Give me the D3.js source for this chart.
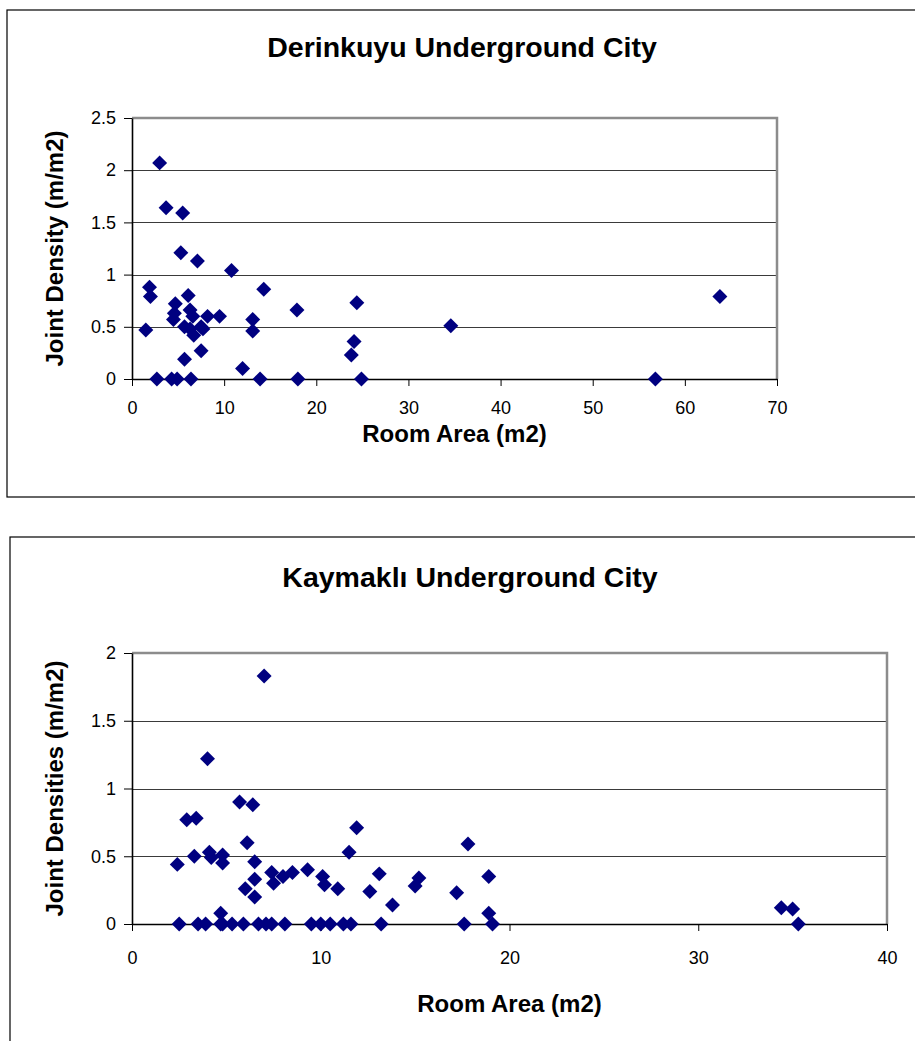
<!DOCTYPE html>
<html>
<head>
<meta charset="utf-8">
<script src="https://cdn.jsdelivr.net/npm/d3@7"></script>
<style>
  html, body { margin: 0; padding: 0; background: #fff; }
  svg { display: block; font-family: "Liberation Sans", Arial, sans-serif; }
</style>
</head>
<body>
<svg id="chart" width="915" height="1041"></svg>
<script>
// Derinkuyu: room area (m2) and joint density (m/m2)
const derinkuyuArea = [
  3.0, 3.7, 5.5, 5.3, 7.1, 10.8, 1.9, 2.0, 14.3, 6.1, 24.4, 63.8,
  4.7, 4.6, 4.5, 6.3, 6.6, 8.2, 9.5, 13.1, 17.9, 1.5, 5.7, 6.3,
  6.7, 7.5, 7.7, 13.1, 24.1, 23.8, 34.6, 7.5, 5.7, 12.0,
  2.7, 4.3, 4.9, 6.4, 13.9, 18.0, 24.9, 56.8
];
const derinkuyuDensity = [
  2.07, 1.64, 1.59, 1.21, 1.13, 1.04, 0.88, 0.79, 0.86, 0.80, 0.73, 0.79,
  0.72, 0.63, 0.57, 0.66, 0.60, 0.60, 0.60, 0.57, 0.66, 0.47, 0.50, 0.48,
  0.42, 0.50, 0.48, 0.46, 0.36, 0.23, 0.51, 0.27, 0.19, 0.10,
  0, 0, 0, 0, 0, 0, 0, 0
];

// Kaymakli: room area (m2) and joint densities (m/m2)
const kaymakliArea = [
  7.0, 4.0, 5.7, 6.4, 2.9, 3.4, 6.1, 11.9, 17.8, 2.4, 3.3, 4.1,
  4.2, 4.8, 4.8, 6.5, 7.4, 7.5, 6.5, 6.0, 6.5, 4.7, 8.0, 8.5,
  9.3, 10.1, 10.2, 11.5, 10.9, 13.1, 12.6, 13.8, 15.2, 15.0, 17.2, 18.9,
  18.9, 34.4, 35.0, 35.3,
  2.5, 3.5, 3.9, 4.7, 4.8, 5.3, 5.9, 6.7, 7.1, 7.4, 8.1, 9.5,
  10.0, 10.5, 11.2, 11.6, 13.2, 17.6, 19.1
];
const kaymakliDensity = [
  1.83, 1.22, 0.90, 0.88, 0.77, 0.78, 0.60, 0.71, 0.59, 0.44, 0.50, 0.53,
  0.49, 0.51, 0.45, 0.46, 0.38, 0.30, 0.33, 0.26, 0.20, 0.08, 0.35, 0.38,
  0.40, 0.35, 0.29, 0.53, 0.26, 0.37, 0.24, 0.14, 0.34, 0.28, 0.23, 0.35,
  0.08, 0.12, 0.11, 0,
  0, 0, 0, 0, 0, 0, 0, 0, 0, 0, 0, 0,
  0, 0, 0, 0, 0, 0, 0
];

// Axis tick values and labels
const derinkuyuXTicks = [0, 10, 20, 30, 40, 50, 60, 70];
const derinkuyuYTicks = [0, 0.5, 1, 1.5, 2, 2.5];
const kaymakliXTicks = [0, 10, 20, 30, 40];
const kaymakliYTicks = [0, 0.5, 1, 1.5, 2];

const svg = d3.select("#chart");

function drawPanel(cfg) {
  const g = svg.append("g");

  // outer chart frame
  g.append("rect")
    .attr("x", cfg.frame[0]).attr("y", cfg.frame[1])
    .attr("width", cfg.frame[2]).attr("height", cfg.frame[3])
    .attr("fill", "#fff").attr("stroke", "#000").attr("stroke-width", 1.2);

  const x = d3.scaleLinear().domain(cfg.xDomain).range([cfg.left, cfg.right]);
  const y = d3.scaleLinear().domain(cfg.yDomain).range([cfg.bottom, cfg.top]);

  // horizontal gridlines
  g.append("g").selectAll("line")
    .data(cfg.yTicks.filter(d => d > cfg.yDomain[0] && d < cfg.yDomain[1]))
    .join("line")
    .attr("x1", cfg.left).attr("x2", cfg.right)
    .attr("y1", d => Math.round(y(d)) + 0.5).attr("y2", d => Math.round(y(d)) + 0.5)
    .attr("stroke", "#3a3a3a").attr("stroke-width", 1);

  // plot area border (top and right in grey)
  g.append("path")
    .attr("d", `M${cfg.left},${cfg.top}H${cfg.right}V${cfg.bottom}`)
    .attr("fill", "none").attr("stroke", "#8c8c8c").attr("stroke-width", 2.5);

  // axes
  const xAxis = d3.axisBottom(x).tickValues(cfg.xTicks).tickFormat(d3.format("d"))
    .tickSizeInner(7).tickSizeOuter(0).tickPadding(cfg.xPad);
  const yAxis = d3.axisLeft(y).tickValues(cfg.yTicks).tickFormat(d => String(d))
    .tickSizeInner(8).tickSizeOuter(0).tickPadding(8);

  const gx = g.append("g").attr("transform", `translate(0,${cfg.bottom})`).call(xAxis);
  const gy = g.append("g").attr("transform", `translate(${cfg.left},0)`).call(yAxis);
  [gx, gy].forEach(a => {
    a.select(".domain").attr("stroke", "#000").attr("stroke-width", 1.6);
    a.selectAll(".tick line").attr("stroke", "#000").attr("stroke-width", 1);
    a.selectAll(".tick text")
      .attr("font-family", "Liberation Sans, Arial, sans-serif")
      .attr("font-size", 18).attr("fill", "#000");
  });

  // markers
  const diamond = d3.symbol().type(d3.symbolSquare).size(112);
  g.append("g").selectAll("path")
    .data(cfg.xs.map((v, i) => [v, cfg.ys[i]]))
    .join("path")
    .attr("d", diamond)
    .attr("transform", d => `translate(${x(d[0])},${y(d[1])}) rotate(45)`)
    .attr("fill", "#000080");

  // titles
  g.append("text")
    .attr("x", cfg.titleX).attr("y", cfg.titleY)
    .attr("text-anchor", "middle").attr("font-weight", "bold").attr("font-size", 28.5)
    .text(cfg.title);

  g.append("text")
    .attr("x", (cfg.left + cfg.right) / 2).attr("y", cfg.xLabelY)
    .attr("text-anchor", "middle").attr("font-weight", "bold").attr("font-size", 24)
    .text(cfg.xLabel);

  g.append("text")
    .attr("transform", `translate(${cfg.yLabelX},${(cfg.top + cfg.bottom) / 2}) rotate(-90)`)
    .attr("text-anchor", "middle").attr("font-weight", "bold").attr("font-size", 24)
    .text(cfg.yLabel);
}

drawPanel({
  frame: [7, 10, 920, 487],
  left: 132, right: 777, top: 118, bottom: 379,
  xDomain: [0, 70], yDomain: [0, 2.5],
  xTicks: derinkuyuXTicks, yTicks: derinkuyuYTicks, xPad: 15,
  xs: derinkuyuArea, ys: derinkuyuDensity,
  title: "Derinkuyu Underground City", titleX: 462, titleY: 57,
  xLabel: "Room Area (m2)", xLabelY: 442,
  yLabel: "Joint Density (m/m2)", yLabelX: 63
});

drawPanel({
  frame: [10, 537, 920, 520],
  left: 132, right: 887, top: 653, bottom: 924,
  xDomain: [0, 40], yDomain: [0, 2],
  xTicks: kaymakliXTicks, yTicks: kaymakliYTicks, xPad: 20,
  xs: kaymakliArea, ys: kaymakliDensity,
  title: "Kaymaklı Underground City", titleX: 470, titleY: 587,
  xLabel: "Room Area (m2)", xLabelY: 1012,
  yLabel: "Joint Densities (m/m2)", yLabelX: 63
});
</script>
</body>
</html>
